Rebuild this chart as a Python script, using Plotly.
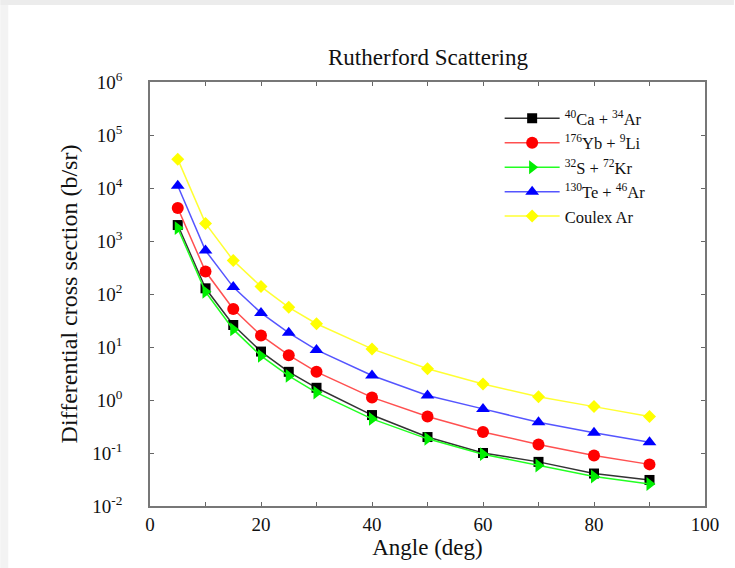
import plotly.graph_objects as go

angles = [5, 10, 15, 20, 25, 30, 40, 50, 60, 70, 80, 90]
ca_ar = [2000, 128, 26, 8.2, 3.4, 1.7, 0.52, 0.2, 0.1, 0.068, 0.041, 0.031]
yb_li = [4200, 265, 52, 16.5, 7.0, 3.4, 1.12, 0.49, 0.25, 0.145, 0.09, 0.061]
s_kr = [1750, 110, 21.5, 6.8, 2.85, 1.38, 0.44, 0.185, 0.095, 0.058, 0.036, 0.026]
te_ar = [11000, 660, 135, 44, 18.5, 8.8, 2.9, 1.22, 0.68, 0.38, 0.24, 0.16]
coulex_ar = [35000, 2150, 430, 138, 56, 27.5, 9.2, 3.9, 2.0, 1.15, 0.75, 0.49]

names = ["<sup>40</sup>Ca + <sup>34</sup>Ar", "<sup>176</sup>Yb + <sup>9</sup>Li",
         "<sup>32</sup>S + <sup>72</sup>Kr", "<sup>130</sup>Te + <sup>46</sup>Ar", "Coulex Ar"]
series = [ca_ar, yb_li, s_kr, te_ar, coulex_ar]
line_colors = ["#333333", "#ff5050", "#22ff22", "#5555ff", "#ffff33"]
marker_colors = ["#000000", "#ff0000", "#00ee00", "#0000ff", "#ffff00"]
symbols = ["square", "circle", "triangle-right", "triangle-up", "diamond"]
sizes = [10, 12, 12, 12, 10]

fig = go.Figure()
for n, ys, lc, mc, s, sz in zip(names, series, line_colors, marker_colors, symbols, sizes):
    fig.add_trace(go.Scatter(
        x=angles, y=ys, name=n, mode="lines+markers",
        line=dict(color=lc, width=1.5),
        marker=dict(color=mc, symbol=s, size=sz, line=dict(width=0)),
    ))

serif = "Liberation Serif, Times New Roman, serif"
tickvals = [10.0 ** k for k in range(-2, 7)]
ticktext = ["10<sup>%d</sup>" % k for k in range(-2, 7)]

fig.update_layout(
    width=735, height=568,
    margin=dict(l=150, r=30, t=82, b=62),
    paper_bgcolor="white", plot_bgcolor="white",
    font=dict(family=serif, color="#111111", size=18),
    title=dict(text="Rutherford Scattering", x=(150 + 706) / 2 / 735, xanchor="center",
               y=1 - 57 / 568, yanchor="middle", font=dict(family=serif, size=23, color="#111111")),
    showlegend=True,
    legend=dict(x=0.63, y=0.955, xanchor="left", yanchor="top", bgcolor="rgba(0,0,0,0)",
                font=dict(family=serif, size=16.5, color="#111111"), tracegroupgap=0,
                itemwidth=55),
    xaxis=dict(range=[0, 100], tickvals=[0, 20, 40, 60, 80, 100], ticks="inside", ticklen=4,
               tickcolor="#666666", showline=True, linecolor="#777777", linewidth=1.5, mirror="ticks",
               showgrid=False, zeroline=False,
               minor=dict(tickvals=[10, 30, 50, 70, 90], ticks="inside", ticklen=4, tickcolor="#666666"),
               title=dict(text="Angle (deg)", font=dict(family=serif, size=23), standoff=4),
               tickfont=dict(family=serif, size=19)),
    yaxis=dict(type="log", range=[-2, 6], tickvals=tickvals, ticktext=ticktext, ticks="inside",
               ticklen=4, tickcolor="#666666", showline=True, linecolor="#777777", linewidth=1.5,
               mirror="ticks", showgrid=False, zeroline=False, ticklabelstandoff=22,
               title=dict(text="Differential cross section (b/sr)", font=dict(family=serif, size=24), standoff=8),
               tickfont=dict(family=serif, size=19)),
    shapes=[
        dict(type="rect", xref="paper", yref="paper", x0=-150 / 556, x1=(735 - 150) / 556,
             y0=1 + 77 / 424, y1=1 + 82 / 424, fillcolor="#ececec", line=dict(width=0), layer="below"),
        dict(type="rect", xref="paper", yref="paper", x0=-150 / 556, x1=-142 / 556,
             y0=-62 / 424, y1=1 + 77 / 424, fillcolor="#f3f3f3", line=dict(width=0), layer="below"),
    ],
)

fig.write_html("out.html")
